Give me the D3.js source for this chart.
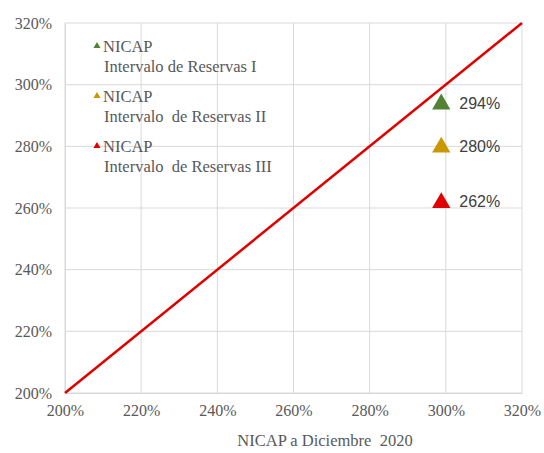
<!DOCTYPE html>
<html>
<head>
<meta charset="utf-8">
<script src="https://cdn.jsdelivr.net/npm/d3@7"></script>
<style>
  body { margin: 0; background: #fff; }
  svg { display: block; }
  .serif { font-family: "Liberation Serif", "Times New Roman", serif; }
</style>
</head>
<body>
<div id="chart"></div>
<script>
        const width = 544;
        const height = 453;

        // data
        const seriesNames = ["NICAP", "NICAP", "NICAP"];
        const seriesSubtitles = ["Intervalo de Reservas I", "Intervalo  de Reservas II", "Intervalo  de Reservas III"];
        const seriesColors = ["#548235", "#c99700", "#e00000"];
        const xValues = [2.988, 2.988, 2.988];
        const yValues = [2.94, 2.80, 2.62];
        const pointLabels = ["294%", "280%", "262%"];
        const tickValues = [2.0, 2.2, 2.4, 2.6, 2.8, 3.0, 3.2];
        const diagonal = [2.0, 3.2];
        const xTitle = "NICAP a Diciembre  2020";

        const margin = { top: 23, right: 22, bottom: 60, left: 65 };

        const svg = d3.select("#chart")
            .append("svg")
            .attr("width", width)
            .attr("height", height);

        const x = d3.scaleLinear()
            .domain([2.0, 3.2])
            .range([margin.left, width - margin.right]);

        const y = d3.scaleLinear()
            .domain([2.0, 3.2])
            .range([height - margin.bottom, margin.top]);

        const fmt = d3.format(".0%");
        const sans = "'Liberation Sans', Arial, sans-serif";

        // grid
        svg.append("g")
            .selectAll("line")
            .data(tickValues)
            .join("line")
            .attr("x1", d => x(d)).attr("x2", d => x(d))
            .attr("y1", y(3.2)).attr("y2", y(2.0))
            .attr("stroke", "#d9d9d9")
            .attr("stroke-width", 1);

        svg.append("g")
            .selectAll("line")
            .data(tickValues)
            .join("line")
            .attr("x1", x(2.0)).attr("x2", x(3.2))
            .attr("y1", d => y(d)).attr("y2", d => y(d))
            .attr("stroke", "#d9d9d9")
            .attr("stroke-width", 1);

        // axes
        const xAxis = svg.append("g")
            .attr("transform", `translate(0,${y(2.0)})`)
            .call(d3.axisBottom(x).tickValues(tickValues).tickFormat(fmt).tickSize(0).tickPadding(12));
        const yAxis = svg.append("g")
            .attr("transform", `translate(${x(2.0)},0)`)
            .call(d3.axisLeft(y).tickValues(tickValues).tickFormat(fmt).tickSize(0).tickPadding(13));

        [xAxis, yAxis].forEach(a => {
            a.attr("font-family", null).attr("font-size", null);
            a.select(".domain").attr("stroke", "#d9d9d9");
            a.selectAll("text")
                .attr("class", "serif")
                .attr("fill", "#595959")
                .style("font-size", "16px");
        });

        // y = x line
        svg.append("line")
            .attr("x1", x(diagonal[0])).attr("y1", y(diagonal[0]))
            .attr("x2", x(diagonal[1])).attr("y2", y(diagonal[1]))
            .attr("stroke", "#e00000")
            .attr("stroke-width", 2.5);

        // markers
        const tri = d3.symbol().type(d3.symbolTriangle).size(145);
        svg.append("g")
            .selectAll("path")
            .data(yValues)
            .join("path")
            .attr("d", tri)
            .attr("transform", (d, i) => `translate(${x(xValues[i])},${y(d) + 1})`)
            .attr("fill", (d, i) => seriesColors[i]);

        svg.append("g")
            .selectAll("text")
            .data(yValues)
            .join("text")
            .attr("x", (d, i) => x(xValues[i]) + 18)
            .attr("y", d => y(d))
            .attr("dy", "0.35em")
            .attr("fill", "#404040")
            .style("font-family", sans)
            .style("font-size", "16px")
            .text((d, i) => pointLabels[i]);

        // legend
        const legend = svg.append("g");
        seriesNames.forEach((name, i) => {
            const top = 46 + i * 50;
            legend.append("path")
                .attr("d", d3.symbol().type(d3.symbolTriangle).size(22))
                .attr("transform", `translate(97,${top})`)
                .attr("fill", seriesColors[i]);
            legend.append("text")
                .attr("class", "serif")
                .attr("x", 103).attr("y", top)
                .attr("dy", "0.35em")
                .attr("fill", "#595959")
                .style("font-size", "16.5px")
                .text(name);
            legend.append("text")
                .attr("class", "serif")
                .attr("x", 104).attr("y", top + 20)
                .attr("dy", "0.35em")
                .attr("fill", "#595959")
                .style("font-size", "16.5px")
                .style("white-space", "pre")
                .text(seriesSubtitles[i]);
        });

        // axis title
        svg.append("text")
            .attr("class", "serif")
            .attr("x", 325)
            .attr("y", 440)
            .attr("dy", "0.35em")
            .attr("text-anchor", "middle")
            .attr("fill", "#595959")
            .style("font-size", "16.5px")
            .style("white-space", "pre")
            .text(xTitle);
</script>
</body>
</html>
